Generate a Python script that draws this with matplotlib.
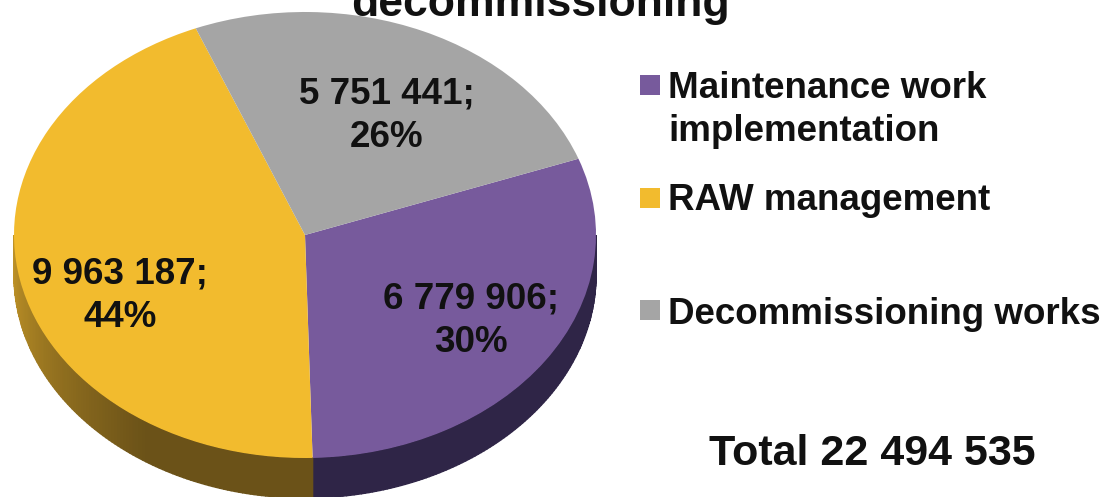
import numpy as np
import matplotlib
matplotlib.use("Agg")
import matplotlib.pyplot as plt
from matplotlib.colors import to_rgb

plt.rcParams['font.family'] = ['Liberation Sans', 'DejaVu Sans']

# chart data, clockwise from the right hand side
labels = ["Maintenance work\nimplementation", "RAW management", "Decommissioning works"]
values = [6779906, 9963187, 5751441]
value_text = ["6 779 906;", "9 963 187;", "5 751 441;"]
percents = ["30%", "44%", "26%"]
total_text = "Total 22 494 535"
title_text = "decommissioning"

colors = ["#775a9c", "#f2bb2e", "#a5a5a5"]
start_angle = 20

W, H = 1109, 497
fig = plt.figure(figsize=(W / 100, H / 100), dpi=100)

# top of the pie lives in an axes that squashes the circle to an ellipse
cx, cy, rx, ry = 305, 235, 291, 223
ax = fig.add_axes([(cx - rx) / W, 1 - (cy + ry) / H, 2 * rx / W, 2 * ry / H])
ax.pie(values, colors=colors, startangle=start_angle, counterclock=False, radius=1)
ax.set_aspect('auto')
ax.set_xlim(-1, 1)
ax.set_ylim(-1, 1)
for w in ax.patches:
    w.set_clip_on(False)

# side wall, drawn as thin strips, yellow gets darker towards the front
depth = 40 / ry
fracs = np.array(values) / sum(values)
edges = start_angle - 360 * np.concatenate([[0], np.cumsum(fracs)])
side_cols = [("#2f2547", "#2f2547"), ("#c39628", "#6b5218"), ("#6f6f6f", "#6f6f6f")]
for i in range(3):
    a0 = max(edges[i + 1], -180)
    a1 = min(edges[i], 0)
    if a1 <= a0:
        continue
    angs = np.radians(np.linspace(a0, a1, 120))
    c0 = np.array(to_rgb(side_cols[i][0]))
    c1 = np.array(to_rgb(side_cols[i][1]))
    for j in range(len(angs) - 1):
        t = min(j / (len(angs) - 2) * 1.6, 1)
        xs = [np.cos(angs[j]), np.cos(angs[j + 1]), np.cos(angs[j + 1]), np.cos(angs[j])]
        ys = [np.sin(angs[j]), np.sin(angs[j + 1]), np.sin(angs[j + 1]) - depth, np.sin(angs[j]) - depth]
        ax.fill(xs, ys, color=c0 + (c1 - c0) * t, lw=1, clip_on=False, zorder=0)


# helper axes in pixel coordinates for all the text and legend squares
tx = fig.add_axes([0, 0, 1, 1], facecolor='none')
tx.set_xlim(0, W)
tx.set_ylim(H, 0)
tx.axis('off')

fs = 26.5
txt_col = '#111111'
value_pos = [(471, 321), (120, 296), (387, 116)]
for (x, y), v, p in zip(value_pos, value_text, percents):
    tx.text(x, y, v + "\n" + p, ha='center', va='center', fontsize=fs, fontweight='bold',
            color=txt_col, linespacing=1.32)

legend_y = [85, 198, 310]
text_y = [110, 201, 314]
for y, ty, c, lab in zip(legend_y, text_y, colors, labels):
    tx.scatter([650], [y], marker='s', s=207, color=c, linewidths=0)
    tx.text(668, ty, lab, ha='left', va='center', fontsize=fs, fontweight='bold',
            color=txt_col, linespacing=1.27)

tx.text(872, 454, total_text, ha='center', va='center', fontsize=31, fontweight='bold', color=txt_col)
tx.text(540, 16, title_text, ha='center', va='baseline', fontsize=32, fontweight='bold', color=txt_col)

fig.savefig("out.png", dpi=100)
